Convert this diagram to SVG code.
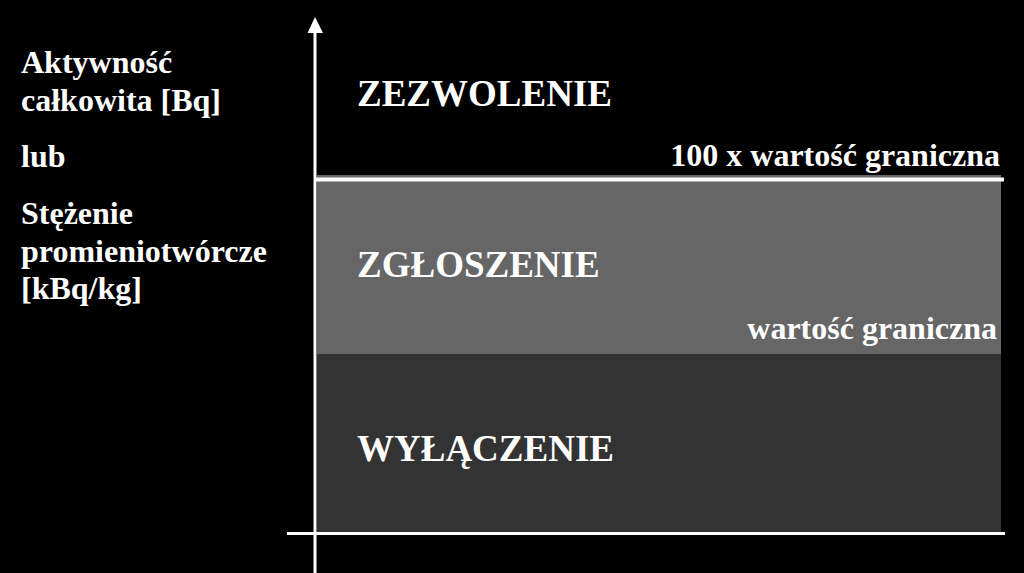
<svg xmlns="http://www.w3.org/2000/svg" width="1024" height="573" viewBox="0 0 1024 573">
<style>
text{font-family:"Liberation Serif","Times New Roman",serif;font-weight:bold;fill:#ffffff}
.lbl{font-size:32px}
.zone{font-size:37px}
.thr{font-size:32px;text-anchor:end}
.axis{stroke:#ffffff;stroke-width:3;fill:none}
</style>
<rect x="0" y="0" width="1024" height="573" fill="#000000"/>
<g id="zone-zezwolenie">
<text class="zone" x="357" y="106">ZEZWOLENIE</text>
</g>
<g id="zone-zgloszenie">
<rect x="317" y="175" width="684" height="179" fill="#666666"/>
<text class="zone" x="357" y="277">ZGŁOSZENIE</text>
</g>
<g id="zone-wylaczenie">
<rect x="317" y="354" width="684" height="178" fill="#333333"/>
<text class="zone" x="357" y="461">WYŁĄCZENIE</text>
</g>
<g id="threshold-100">
<line x1="316" y1="179.5" x2="1004" y2="179.5" stroke="#ffffff" stroke-width="4"/>
<text class="thr" x="1000" y="166">100 x wartość graniczna</text>
</g>
<g id="threshold-1">
<text class="thr" x="997" y="339">wartość graniczna</text>
</g>
<g id="axis-label">
<text class="lbl" x="21" y="73">Aktywność</text>
<text class="lbl" x="21" y="111">całkowita [Bq]</text>
<text class="lbl" x="21" y="167">lub</text>
<text class="lbl" x="21" y="224">Stężenie</text>
<text class="lbl" x="21" y="262">promieniotwórcze</text>
<text class="lbl" x="21" y="299">[kBq/kg]</text>
</g>
<g id="connectors">
<line class="axis" x1="315" y1="573" x2="315" y2="31"/>
<polygon points="315,17 307.5,33 323,33" fill="#ffffff"/>
<line class="axis" x1="287" y1="533.5" x2="1005" y2="533.5"/>
</g>
</svg>
